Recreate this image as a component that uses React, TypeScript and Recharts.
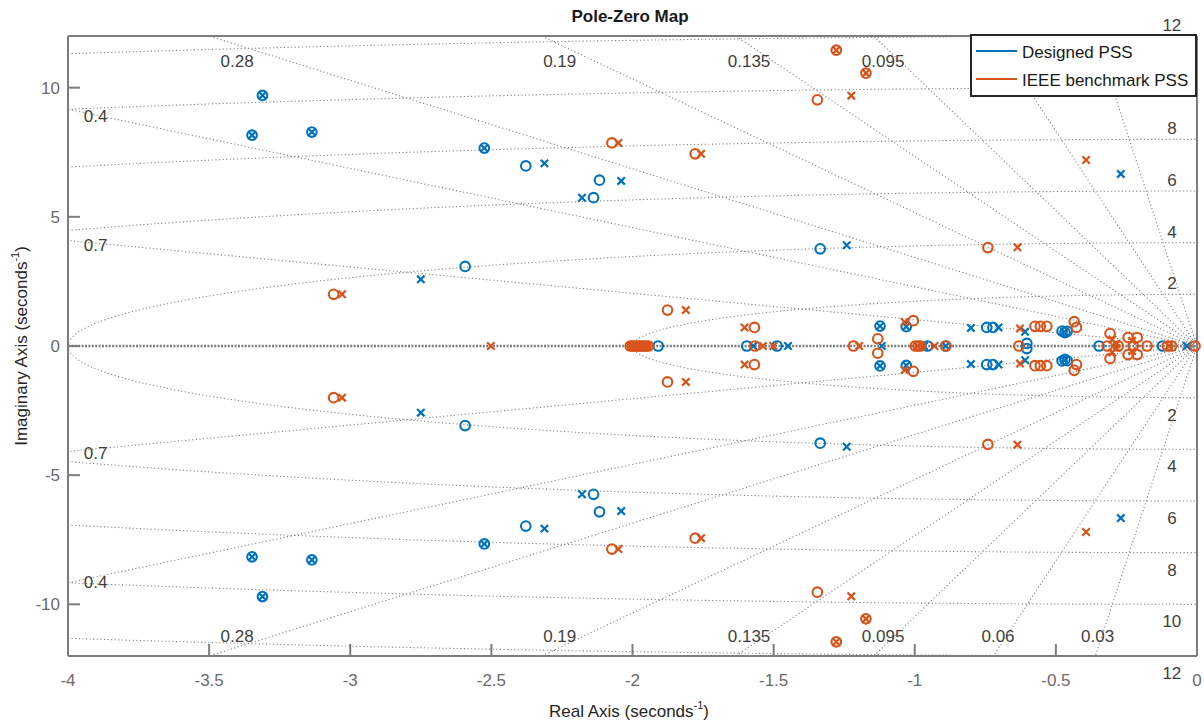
import React from 'react';
import { ComposedChart, XAxis, YAxis, Line, Scatter } from 'recharts';

// Pole and zero locations, [real, imag]. Complex entries are listed once
// (upper half plane); their conjugates are added when the series is built.
type Pt = [number, number];

const designedZeros: Pt[] = [
  [-3.311, 9.7], [-3.348, 8.16], [-3.136, 8.28], [-2.525, 7.66],
  [-2.378, 6.97], [-2.117, 6.42], [-2.138, 5.74], [-2.593, 3.08],
  [-1.335, 3.76], [-1.909, 0], [-1.595, 0], [-1.488, 0],
  [-1.123, 0.77], [-1.03, 0.75], [-0.955, 0], [-0.89, 0],
  [-0.745, 0.72], [-0.723, 0.72], [-0.603, 0.1],
  [-0.478, 0.58], [-0.468, 0.52], [-0.46, 0.57],
  [-0.347, 0], [-0.122, 0],
];

const designedPoles: Pt[] = [
  [-3.311, 9.7], [-3.348, 8.16], [-3.136, 8.28], [-2.525, 7.66],
  [-2.312, 7.07], [-2.04, 6.39], [-2.179, 5.74], [-2.75, 2.58],
  [-1.241, 3.9], [-0.27, 6.66], [-1.572, 0], [-1.449, 0],
  [-1.123, 0.77], [-1.117, 0], [-1.03, 0.75], [-0.967, 0], [-0.89, 0],
  [-0.801, 0.7], [-0.703, 0.72], [-0.609, 0.55], [-0.47, 0.55],
  [-0.036, 0],
];

const benchmarkZeros: Pt[] = [
  [-1.278, 11.45], [-1.173, 10.56], [-1.345, 9.53], [-2.073, 7.86],
  [-1.778, 7.44], [-0.741, 3.81], [-3.059, 2.0], [-1.876, 1.39],
  [-2.008, 0], [-2.0, 0], [-1.992, 0], [-1.984, 0], [-1.976, 0],
  [-1.968, 0], [-1.96, 0], [-1.952, 0], [-1.944, 0],
  [-1.568, 0.72], [-1.566, 0], [-1.217, 0], [-1.131, 0.28],
  [-1.005, 0.98], [-0.998, 0], [-0.988, 0], [-0.98, 0], [-0.89, 0], [-0.631, 0],
  [-0.574, 0.76], [-0.555, 0.76], [-0.532, 0.76],
  [-0.435, 0.94], [-0.427, 0.72],
  [-0.318, 0], [-0.279, 0], [-0.308, 0.48], [-0.244, 0.33], [-0.212, 0.33],
  [-0.226, 0], [-0.177, 0],
  [-0.105, 0], [-0.09, 0], [-0.007, 0],
];

const benchmarkPoles: Pt[] = [
  [-1.278, 11.45], [-1.173, 10.56], [-1.225, 9.69], [-2.05, 7.86],
  [-1.757, 7.44], [-0.393, 7.2], [-0.636, 3.82], [-3.029, 2.0],
  [-2.502, 0], [-1.811, 1.39], [-2.004, 0], [-1.988, 0], [-1.972, 0],
  [-1.956, 0], [-1.948, 0],
  [-1.603, 0.72], [-1.538, 0], [-1.501, 0], [-1.197, 0],
  [-1.036, 0.93], [-0.99, 0], [-0.93, 0], [-0.627, 0.68],
  [-0.3, 0.25], [-0.285, 0.08], [-0.23, 0.2], [-0.1, 0],
];

// s-plane grid: constant damping rays and constant natural-frequency arcs
const dampingRatios = [0.03, 0.06, 0.095, 0.135, 0.19, 0.28, 0.4, 0.7];
const naturalFreqs = [2, 4, 6, 8, 10, 12];

const xTicks = [-4, -3.5, -3, -2.5, -2, -1.5, -1, -0.5, 0];
const yTicks = [-10, -5, 0, 5, 10];

// grid label anchors in s-plane units (the ones under the legend box are left out)
const dampingLabels: { text: string; re: number; im: number }[] = [
  { text: '0.28', re: -3.401, im: 11.05 }, { text: '0.19', re: -2.258, im: 11.05 },
  { text: '0.135', re: -1.587, im: 11.05 }, { text: '0.095', re: -1.112, im: 11.05 },
  { text: '0.28', re: -3.401, im: -11.21 }, { text: '0.19', re: -2.258, im: -11.21 },
  { text: '0.135', re: -1.587, im: -11.21 }, { text: '0.095', re: -1.112, im: -11.21 },
  { text: '0.06', re: -0.705, im: -11.21 }, { text: '0.03', re: -0.352, im: -11.21 },
  { text: '0.4', re: -3.902, im: 8.92 }, { text: '0.7', re: -3.902, im: 3.91 },
  { text: '0.7', re: -3.902, im: -4.12 }, { text: '0.4', re: -3.902, im: -9.12 },
];
const freqLabelsUpper = [2, 4, 6, 8, 12];
const freqLabelsLower = [2, 4, 6, 8, 10, 12];
const freqLabelRe = -0.089;

const X_MIN = -4;
const Y_MAX = 12;

const BLUE = '#0072BD';
const ORANGE = '#D95319';
const AXIS = '#7d7d7d';
const TICK_TEXT = '#6b6b6b';
const GRID = '#7c7c7c';
const GRID_TEXT = '#3f3f3f';
const FONT = "'Liberation Sans', Arial, Helvetica, sans-serif";

const toPoints = (pts: Pt[]) =>
  pts.flatMap(([re, im]) => (im === 0 ? [{ re, im }] : [{ re, im }, { re, im: -im }]));

const dampingRay = (z: number, sign: number) => {
  const k = Math.sqrt(1 - z * z) / z;
  const end = -X_MIN * k <= Y_MAX ? { re: X_MIN, im: -X_MIN * k } : { re: -Y_MAX / k, im: Y_MAX };
  return [{ re: 0, im: 0 }, { re: end.re, im: sign * end.im }];
};

const freqArc = (wn: number, sign: number) => {
  const t0 = wn > -X_MIN ? Math.acos(-X_MIN / wn) : 0;
  const n = 120;
  const pts: { re: number; im: number }[] = [];
  for (let i = 0; i <= n; i++) {
    const t = t0 + ((Math.PI / 2 - t0) * i) / n;
    pts.push({ re: -wn * Math.cos(t), im: sign * wn * Math.sin(t) });
  }
  return pts;
};

const gridLines = [
  ...dampingRatios.flatMap((z) => [dampingRay(z, 1), dampingRay(z, -1)]),
  ...naturalFreqs.flatMap((w) => [freqArc(w, 1), freqArc(w, -1)]),
];
const realAxisLine = [{ re: X_MIN, im: 0 }, { re: 0, im: 0 }];

const freqLabelPts = [
  ...freqLabelsUpper.map((w) => ({ re: freqLabelRe, im: w, text: String(w), up: true })),
  ...freqLabelsLower.map((w) => ({ re: freqLabelRe, im: -w, text: String(w), up: false })),
];

const ZeroMark = (color: string) => (p: any) => (
  <circle cx={p.cx} cy={p.cy} r={4.8} fill="none" stroke={color} strokeWidth={2.1} />
);
const PoleMark = (color: string) => (p: any) => {
  const h = 3.7;
  return (
    <path
      d={`M${p.cx - h},${p.cy - h}L${p.cx + h},${p.cy + h}M${p.cx - h},${p.cy + h}L${p.cx + h},${p.cy - h}`}
      stroke={color}
      strokeWidth={2.2}
      fill="none"
    />
  );
};

const DampingText = (p: any) => (
  <text x={p.cx} y={p.cy} dy="0.36em" textAnchor="middle" fontSize={17} fill={GRID_TEXT} fontFamily={FONT}>
    {p.payload.text}
  </text>
);
const FreqText = (p: any) => (
  <text
    x={p.cx}
    y={p.cy + (p.payload.up ? -11 : 17)}
    dy="0.36em"
    textAnchor="middle"
    fontSize={17}
    fill={GRID_TEXT}
    fontFamily={FONT}
  >
    {p.payload.text}
  </text>
);

const BottomTick = (p: any) => (
  <text x={p.x} y={p.y + 42} textAnchor="middle" fontSize={17} fill={TICK_TEXT} fontFamily={FONT}>
    {String(p.payload.value)}
  </text>
);
const LeftTick = (p: any) => (
  <text x={p.x - 20} y={p.y + 6} textAnchor="end" fontSize={17} fill={TICK_TEXT} fontFamily={FONT}>
    {String(p.payload.value)}
  </text>
);
const NoTick = () => <g />;

export default function App() {
  return (
    <div style={{ position: 'absolute', left: 0, top: 0, width: 1204, height: 725, background: '#fff' }}>
      <ComposedChart width={1204} height={725} margin={{ top: 0, right: 0, bottom: 0, left: 0 }}>
        <XAxis
          xAxisId="b"
          type="number"
          dataKey="re"
          domain={[-4, 0]}
          ticks={xTicks}
          orientation="bottom"
          height={69}
          tickSize={-12}
          tickMargin={0}
          tick={BottomTick}
          axisLine={{ stroke: AXIS, strokeWidth: 2 }}
          tickLine={{ stroke: AXIS, strokeWidth: 2 }}
          interval={0}
        />
        <XAxis
          xAxisId="t"
          type="number"
          dataKey="re"
          domain={[-4, 0]}
          ticks={xTicks}
          orientation="top"
          height={36}
          tickSize={-12}
          tickMargin={0}
          tick={NoTick}
          axisLine={{ stroke: AXIS, strokeWidth: 2 }}
          tickLine={{ stroke: AXIS, strokeWidth: 2 }}
          interval={0}
        />
        <YAxis
          yAxisId="l"
          type="number"
          dataKey="im"
          domain={[-12, 12]}
          ticks={yTicks}
          width={68}
          tickSize={-12}
          tickMargin={0}
          tick={LeftTick}
          axisLine={{ stroke: AXIS, strokeWidth: 2 }}
          tickLine={{ stroke: AXIS, strokeWidth: 2 }}
          interval={0}
        />
        <YAxis
          yAxisId="r"
          type="number"
          orientation="right"
          domain={[-12, 12]}
          ticks={yTicks}
          width={7}
          tickSize={-12}
          tickMargin={0}
          tick={NoTick}
          axisLine={{ stroke: AXIS, strokeWidth: 2 }}
          tickLine={{ stroke: AXIS, strokeWidth: 2 }}
          interval={0}
        />

        {gridLines.map((pts, i) => (
          <Line
            key={`g${i}`}
            data={pts}
            dataKey="im"
            xAxisId="b"
            yAxisId="l"
            dot={false}
            activeDot={false}
            stroke={GRID}
            strokeWidth={1.1}
            strokeDasharray="1.1 2.5"
            isAnimationActive={false}
            legendType="none"
          />
        ))}
        <Line
          data={realAxisLine}
          dataKey="im"
          xAxisId="b"
          yAxisId="l"
          dot={false}
          activeDot={false}
          stroke={GRID}
          strokeWidth={2.6}
          strokeDasharray="2 1.4"
          isAnimationActive={false}
          legendType="none"
        />

        <Scatter data={dampingLabels} xAxisId="b" yAxisId="l" shape={DampingText} isAnimationActive={false} />
        <Scatter data={freqLabelPts} xAxisId="b" yAxisId="l" shape={FreqText} isAnimationActive={false} />

        <Scatter name="Designed PSS zeros" data={toPoints(designedZeros)} xAxisId="b" yAxisId="l" shape={ZeroMark(BLUE)} isAnimationActive={false} />
        <Scatter name="Designed PSS poles" data={toPoints(designedPoles)} xAxisId="b" yAxisId="l" shape={PoleMark(BLUE)} isAnimationActive={false} />
        <Scatter name="IEEE benchmark PSS zeros" data={toPoints(benchmarkZeros)} xAxisId="b" yAxisId="l" shape={ZeroMark(ORANGE)} isAnimationActive={false} />
        <Scatter name="IEEE benchmark PSS poles" data={toPoints(benchmarkPoles)} xAxisId="b" yAxisId="l" shape={PoleMark(ORANGE)} isAnimationActive={false} />
      </ComposedChart>

      <svg
        width={1204}
        height={725}
        style={{ position: 'absolute', left: 0, top: 0, pointerEvents: 'none' }}
        fontFamily={FONT}
      >
        <text x={630} y={22} textAnchor="middle" fontSize={17} fontWeight="bold" fill="#1a1a1a">
          Pole-Zero Map
        </text>
        <text x={629} y={717} textAnchor="middle" fontSize={17} fill="#262626">
          <tspan>Real Axis (seconds</tspan>
          <tspan fontSize={11} dy={-8}>-1</tspan>
          <tspan dy={8}>)</tspan>
        </text>
        <text x={27} y={346} textAnchor="middle" fontSize={17} fill="#262626" transform="rotate(-90 27 346)">
          <tspan>Imaginary Axis (seconds</tspan>
          <tspan fontSize={11} dy={-8}>-1</tspan>
          <tspan dy={8}>)</tspan>
        </text>

        <rect x={971} y={35} width={225} height={61} fill="#fff" stroke="#262626" strokeWidth={2} />
        <line x1={976} y1={51} x2={1017} y2={51} stroke={BLUE} strokeWidth={2} />
        <line x1={976} y1={79} x2={1017} y2={79} stroke={ORANGE} strokeWidth={2} />
        <text x={1022} y={58} fontSize={17} fill="#1a1a1a">Designed PSS</text>
        <text x={1022} y={86} fontSize={17} fill="#1a1a1a">IEEE benchmark PSS</text>
      </svg>
    </div>
  );
}
